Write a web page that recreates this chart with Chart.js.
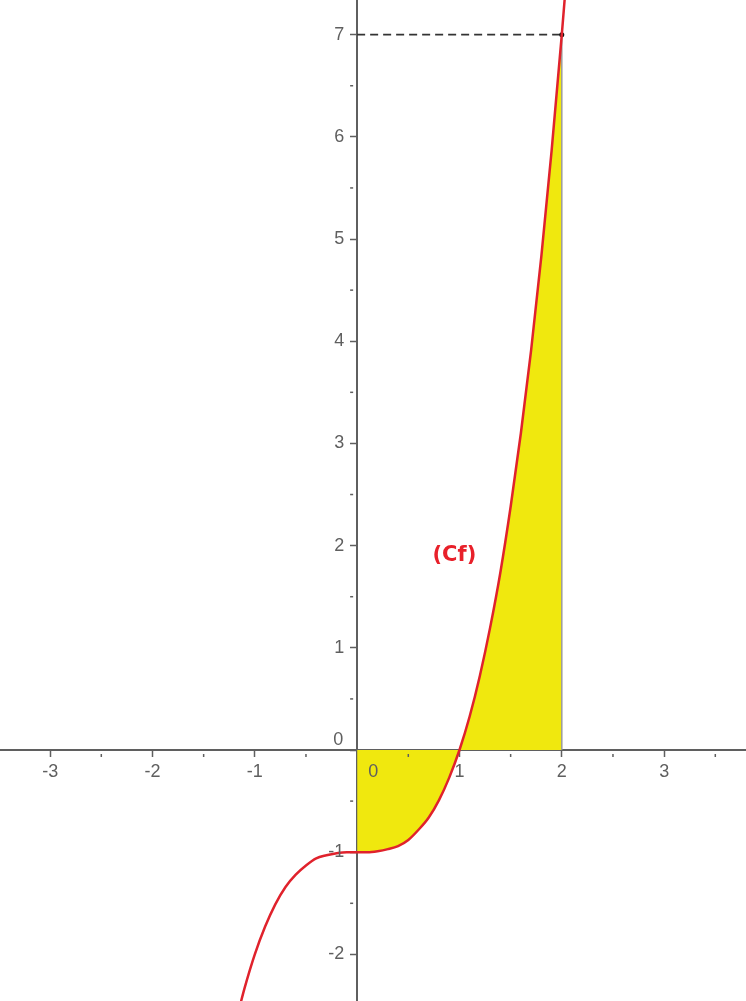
<!DOCTYPE html>
<html>
<head>
<meta charset="utf-8">
<script src="https://cdn.jsdelivr.net/npm/chart.js@4.4.0/dist/chart.umd.min.js"></script>
<style>
  html, body { margin: 0; padding: 0; background: #fff; }
  #graph { display: block; }
</style>
</head>
<body>
<canvas id="graph" width="746" height="1001"></canvas>
<script>
// courbe (Cf), valeurs
const curveX = [-1.15, -1.1, -1.0, -0.9, -0.8, -0.7, -0.6, -0.5, -0.4, -0.3, -0.2, -0.1, 0,
                0.1, 0.2, 0.3, 0.4, 0.5, 0.6, 0.7, 0.8, 0.9, 1.0, 1.1, 1.2, 1.3, 1.4, 1.5,
                1.6, 1.7, 1.8, 1.9, 2.0, 2.05];
const curveY = [-2.52, -2.33, -2.0, -1.73, -1.51, -1.34, -1.22, -1.13, -1.06, -1.03, -1.01, -1.0, -1.0,
                -1.0, -0.99, -0.97, -0.94, -0.88, -0.78, -0.66, -0.49, -0.27, 0, 0.33, 0.73, 1.2, 1.74, 2.38,
                3.1, 3.91, 4.83, 5.86, 7.0, 7.62];
// zone jaune entre x = 0 et x = 2
const areaX = [0, 0.1, 0.2, 0.3, 0.4, 0.5, 0.6, 0.7, 0.8, 0.9, 1.0, 1.1, 1.2, 1.3, 1.4, 1.5, 1.6, 1.7, 1.8, 1.9, 2.0];
const areaY = [-1.0, -1.0, -0.99, -0.97, -0.94, -0.88, -0.78, -0.66, -0.49, -0.27, 0, 0.33, 0.73, 1.2, 1.74, 2.38, 3.1, 3.91, 4.83, 5.86, 7.0];
// point (2 ; 7) et ses pointillés
const markX = [0, 2];
const markY = [7, 7];
const edgeX = [2, 2];
const edgeY = [0, 7];
// graduations
const xMinor = [-2.5, -1.5, -0.5, 0.5, 1.5, 2.5, 3.5];
const yMinor = [-1.5, -0.5, 0.5, 1.5, 2.5, 3.5, 4.5, 5.5, 6.5];
const curveName = '(Cf)';
const namePos = [0.95, 1.9];

const toPts = (xs, ys) => xs.map((x, i) => ({x: x, y: ys[i]}));

const axisColor = '#5f5f5f';
const labelCss = '18px "Liberation Sans", Arial, sans-serif';

// étiquettes, petites graduations, les deux "0" et le nom de la courbe
const extras = {
    id: 'extras',
    afterDraw(chart) {
        const c = chart.ctx;
        const sx = chart.scales.x, sy = chart.scales.y;
        const x0 = sx.getPixelForValue(0), y0 = sy.getPixelForValue(0);
        c.save();
        c.strokeStyle = axisColor;
        c.lineWidth = 1.5;
        xMinor.forEach(v => {
            const px = sx.getPixelForValue(v);
            c.beginPath(); c.moveTo(px, y0 + 4); c.lineTo(px, y0 + 7); c.stroke();
        });
        yMinor.forEach(v => {
            const py = sy.getPixelForValue(v);
            c.beginPath(); c.moveTo(x0 - 7, py); c.lineTo(x0 - 4, py); c.stroke();
        });
        c.fillStyle = axisColor;
        c.font = labelCss;
        c.textBaseline = 'middle';
        c.textAlign = 'center';
        sx.ticks.forEach(t => {
            if (t.value !== 0) c.fillText(String(t.value), sx.getPixelForValue(t.value), y0 + 22);
        });
        c.fillText('0', x0 + 16, y0 + 22);
        c.textAlign = 'right';
        sy.ticks.forEach(t => {
            if (t.value !== 0) c.fillText(String(t.value), x0 - 13, sy.getPixelForValue(t.value));
        });
        c.fillText('0', x0 - 14, y0 - 10);
        c.fillStyle = '#e8202a';
        c.textAlign = 'center';
        c.font = 'bold 21px "DejaVu Sans", Verdana, sans-serif';
        c.fillText(curveName, sx.getPixelForValue(namePos[0]), sy.getPixelForValue(namePos[1]));
        c.restore();
    }
};

new Chart(document.getElementById('graph'), {
    type: 'line',
    data: {
        datasets: [
            {
                data: toPts(curveX, curveY),
                borderColor: '#e0222c',
                borderWidth: 2.5,
                pointRadius: 0,
                cubicInterpolationMode: 'monotone',
                fill: false
            },
            {
                data: toPts(markX, markY),
                borderColor: '#333333',
                borderWidth: 1.6,
                borderDash: [8, 5],
                pointRadius: [0, 2.5],
                pointBackgroundColor: '#111',
                pointBorderWidth: 0,
                fill: false
            },
            {
                data: toPts(edgeX, edgeY),
                borderColor: '#9a9a9a',
                borderWidth: 1.5,
                pointRadius: 0,
                fill: false
            },
            {
                data: toPts(areaX, areaY),
                borderWidth: 0,
                borderColor: 'rgba(0,0,0,0)',
                backgroundColor: '#f0e80e',
                pointRadius: 0,
                cubicInterpolationMode: 'monotone',
                fill: 'origin'
            }
        ]
    },
    options: {
        responsive: false,
        animation: false,
        layout: {padding: 0, autoPadding: false},
        plugins: {legend: {display: false}, tooltip: {enabled: false}},
        scales: {
            x: {
                type: 'linear',
                min: -3.49,
                max: 3.8,
                position: {y: 0},
                z: 1,
                border: {display: true, color: axisColor, width: 2},
                grid: {drawOnChartArea: false, drawTicks: true, tickLength: 6, tickColor: axisColor, tickWidth: 1.5},
                ticks: {stepSize: 1, includeBounds: false, autoSkip: false, display: false}
            },
            y: {
                type: 'linear',
                min: -2.456,
                max: 7.339,
                position: {x: 0},
                z: 1,
                border: {display: true, color: axisColor, width: 2},
                grid: {drawOnChartArea: false, drawTicks: true, tickLength: 6, tickColor: axisColor, tickWidth: 1.5},
                ticks: {stepSize: 1, includeBounds: false, autoSkip: false, display: false}
            }
        }
    },
    plugins: [extras]
});
</script>
</body>
</html>
